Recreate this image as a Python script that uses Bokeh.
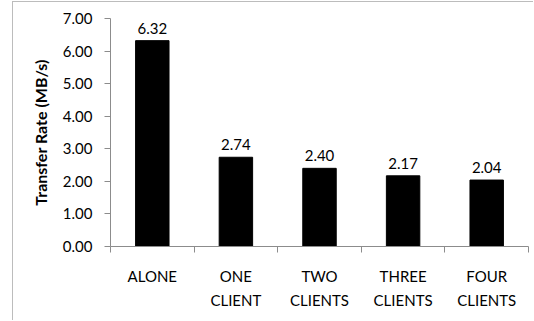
from bokeh.plotting import figure
from bokeh.models import ColumnDataSource, FixedTicker, CustomJSTickFormatter, NumeralTickFormatter
from bokeh.core.properties import value
from bokeh.embed import file_html
from bokeh.resources import INLINE

categories = ["ALONE", "ONE\nCLIENT", "TWO\nCLIENTS", "THREE\nCLIENTS", "FOUR\nCLIENTS"]
rates = [6.32, 2.74, 2.40, 2.17, 2.04]
rate_labels = ["6.32", "2.74", "2.40", "2.17", "2.04"]
y_ticks = [0, 1, 2, 3, 4, 5, 6, 7]

FONT = "Lato"
GRAY = "#8c8c8c"

xs = [i + 0.5 for i in range(len(categories))]
src = ColumnDataSource(dict(x=xs, rate=rates, lab=rate_labels))

# canvas is offset by the chart-area border (12px margin + 1px line on the left, 1px + 1px on top)
p = figure(width=521, height=319, output_backend="svg", toolbar_location=None,
           x_range=(0, len(categories)), y_range=(0, 7),
           min_border_left=97, min_border_right=6, min_border_top=16, min_border_bottom=75)
p.styles = {"margin-left": "12px", "margin-top": "1px",
            "border-left": "1px solid #bcbcbc", "border-top": "1px solid #bcbcbc"}
p.outline_line_color = None
p.xgrid.visible = False
p.ygrid.visible = False

p.vbar(x="x", top="rate", width=0.4, source=src, fill_color="black", line_color="black")
p.text(x="x", y="rate", text="lab", source=src, text_align="center", text_baseline="bottom",
       y_offset=-7, text_font=value(FONT), text_font_size="15px", text_color="black")

# y axis
p.yaxis.ticker = FixedTicker(ticks=y_ticks)
p.yaxis.formatter = NumeralTickFormatter(format="0.00")
p.yaxis.minor_tick_line_color = None
p.yaxis.major_tick_in = 0
p.yaxis.major_tick_out = 6
p.yaxis.axis_line_color = GRAY
p.yaxis.major_tick_line_color = GRAY
p.yaxis.major_label_text_font = FONT
p.yaxis.major_label_text_font_size = "15px"
p.yaxis.major_label_text_color = "black"
p.yaxis.major_label_standoff = 12
p.yaxis.axis_label = "Transfer Rate (MB/s)"
p.yaxis.axis_label_text_font = FONT
p.yaxis.axis_label_text_font_style = "bold"
p.yaxis.axis_label_text_font_size = "16px"
p.yaxis.axis_label_text_color = "black"
p.yaxis.axis_label_standoff = 10

# x axis: labels at centers, ticks at boundaries
p.xaxis.ticker = FixedTicker(ticks=xs, minor_ticks=list(range(len(categories) + 1)))
p.xaxis.formatter = CustomJSTickFormatter(args=dict(cats=categories),
                                          code="return cats[Math.round(tick - 0.5)];")
p.xaxis.major_tick_line_color = None
p.xaxis.minor_tick_in = 0
p.xaxis.minor_tick_out = 6
p.xaxis.minor_tick_line_color = GRAY
p.xaxis.axis_line_color = GRAY
p.xaxis.major_label_text_font = FONT
p.xaxis.major_label_text_font_size = "15px"
p.xaxis.major_label_text_color = "black"
p.xaxis.major_label_text_line_height = 1.35
p.xaxis.major_label_standoff = 14

open("out.html", "w").write(file_html(p, INLINE))
